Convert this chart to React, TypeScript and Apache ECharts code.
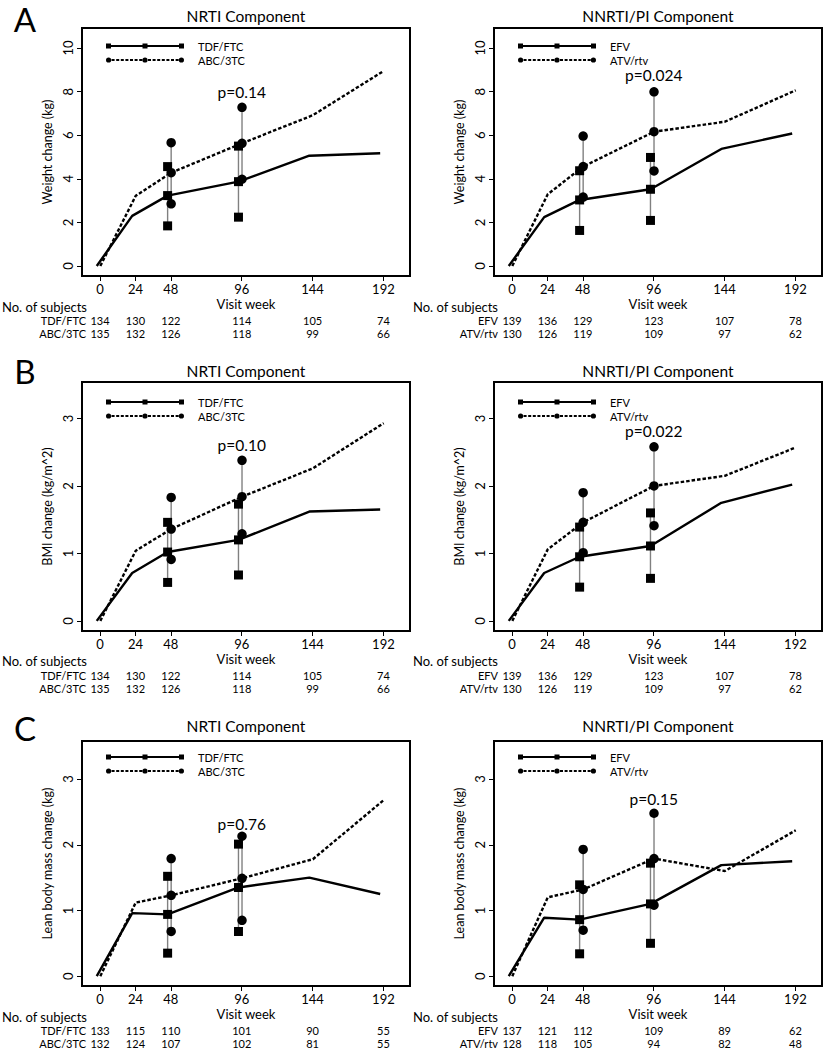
import React, { useEffect, useRef } from "react";
import * as echarts from "echarts";

// ---------------- data ----------------
const weeks = [0, 24, 48, 96, 144, 192];
const ciWeeks = [48, 96];
const xTickLabels = [0, 24, 48, 96, 144, 192];

// A: weight change (kg)
const weightTdfFtc = [0, 2.3, 3.23, 3.87, 5.06, 5.17];
const weightAbc3tc = [0, 3.22, 4.28, 5.63, 6.92, 8.95];
const weightTdfFtcLo = [1.84, 2.24];
const weightTdfFtcHi = [4.56, 5.5];
const weightAbc3tcLo = [2.85, 3.98];
const weightAbc3tcHi = [5.66, 7.28];
const weightEfv = [0, 2.24, 3.03, 3.52, 5.37, 6.08];
const weightAtvRtv = [0, 3.29, 4.56, 6.16, 6.62, 8.06];
const weightEfvLo = [1.63, 2.09];
const weightEfvHi = [4.37, 4.98];
const weightAtvRtvLo = [3.16, 4.36];
const weightAtvRtvHi = [5.96, 7.99];

// B: BMI change (kg/m^2)
const bmiTdfFtc = [0, 0.71, 1.02, 1.2, 1.62, 1.65];
const bmiAbc3tc = [0, 1.04, 1.36, 1.84, 2.26, 2.93];
const bmiTdfFtcLo = [0.57, 0.68];
const bmiTdfFtcHi = [1.46, 1.73];
const bmiAbc3tcLo = [0.91, 1.29];
const bmiAbc3tcHi = [1.83, 2.38];
const bmiEfv = [0, 0.71, 0.95, 1.11, 1.75, 2.02];
const bmiAtvRtv = [0, 1.06, 1.46, 2.0, 2.15, 2.57];
const bmiEfvLo = [0.5, 0.63];
const bmiEfvHi = [1.39, 1.6];
const bmiAtvRtvLo = [1.01, 1.41];
const bmiAtvRtvHi = [1.9, 2.58];

// C: lean body mass change (kg)
const leanTdfFtc = [0, 0.96, 0.94, 1.35, 1.5, 1.25];
const leanAbc3tc = [0, 1.12, 1.23, 1.49, 1.78, 2.68];
const leanTdfFtcLo = [0.35, 0.68];
const leanTdfFtcHi = [1.52, 2.01];
const leanAbc3tcLo = [0.68, 0.85];
const leanAbc3tcHi = [1.79, 2.13];
const leanEfv = [0, 0.89, 0.86, 1.1, 1.69, 1.75];
const leanAtvRtv = [0, 1.2, 1.32, 1.79, 1.6, 2.22];
const leanEfvLo = [0.34, 0.5];
const leanEfvHi = [1.39, 1.72];
const leanAtvRtvLo = [0.7, 1.08];
const leanAtvRtvHi = [1.93, 2.48];

// number of subjects
const nWeightTdfFtc = [134, 130, 122, 114, 105, 74];
const nWeightAbc3tc = [135, 132, 126, 118, 99, 66];
const nWeightEfv = [139, 136, 129, 123, 107, 78];
const nWeightAtvRtv = [130, 126, 119, 109, 97, 62];
const nBmiTdfFtc = [134, 130, 122, 114, 105, 74];
const nBmiAbc3tc = [135, 132, 126, 118, 99, 66];
const nBmiEfv = [139, 136, 129, 123, 107, 78];
const nBmiAtvRtv = [130, 126, 119, 109, 97, 62];
const nLeanTdfFtc = [133, 115, 110, 101, 90, 55];
const nLeanAbc3tc = [132, 124, 107, 102, 81, 55];
const nLeanEfv = [137, 121, 112, 109, 89, 62];
const nLeanAtvRtv = [128, 118, 105, 94, 82, 48];

const pValues = [["p=0.14", "p=0.024"], ["p=0.10", "p=0.022"], ["p=0.76", "p=0.15"]];
const panelLetters = ["A", "B", "C"];
const columnTitles = ["NRTI Component", "NNRTI/PI Component"];
const groupNames = [["TDF/FTC", "ABC/3TC"], ["EFV", "ATV/rtv"]];
const yAxisNames = ["Weight change (kg)", "BMI change (kg/m^2)", "Lean body mass change (kg)"];
const yTickLabels = [[0, 2, 4, 6, 8, 10], [0, 1, 2, 3], [0, 1, 2, 3]];

const panelData = [
  [
    { a: weightTdfFtc, b: weightAbc3tc, aLo: weightTdfFtcLo, aHi: weightTdfFtcHi, bLo: weightAbc3tcLo, bHi: weightAbc3tcHi, nA: nWeightTdfFtc, nB: nWeightAbc3tc },
    { a: weightEfv, b: weightAtvRtv, aLo: weightEfvLo, aHi: weightEfvHi, bLo: weightAtvRtvLo, bHi: weightAtvRtvHi, nA: nWeightEfv, nB: nWeightAtvRtv },
  ],
  [
    { a: bmiTdfFtc, b: bmiAbc3tc, aLo: bmiTdfFtcLo, aHi: bmiTdfFtcHi, bLo: bmiAbc3tcLo, bHi: bmiAbc3tcHi, nA: nBmiTdfFtc, nB: nBmiAbc3tc },
    { a: bmiEfv, b: bmiAtvRtv, aLo: bmiEfvLo, aHi: bmiEfvHi, bLo: bmiAtvRtvLo, bHi: bmiAtvRtvHi, nA: nBmiEfv, nB: nBmiAtvRtv },
  ],
  [
    { a: leanTdfFtc, b: leanAbc3tc, aLo: leanTdfFtcLo, aHi: leanTdfFtcHi, bLo: leanAbc3tcLo, bHi: leanAbc3tcHi, nA: nLeanTdfFtc, nB: nLeanAbc3tc },
    { a: leanEfv, b: leanAtvRtv, aLo: leanEfvLo, aHi: leanEfvHi, bLo: leanAtvRtvLo, bHi: leanAtvRtvHi, nA: nLeanEfv, nB: nLeanAtvRtv },
  ],
];

// ---------------- layout ----------------
const FONT = "Lato";
const colLeft = [82, 494];
const gridWidth = 328;
const rowTop = [28, 382, 741];
const rowHeight = [248, 249, 245];
const yRange = [[-0.46, 10.92], [-0.15, 3.54], [-0.15, 3.58]];
const xMin = -12.2;
const xMax = 210;
const shiftA = -2.2;
const shiftB = 0.2;
const pLabelY = [[8.0, 8.76], [2.6, 2.82], [2.32, 2.7]];
const titleY = [16, 371, 725.5];
const letterY = [18, 370, 727];
const legendRowTop = [40, 396, 751];
const subjectsY = [307, 661, 1017];
const countOffsets = [[44, 57], [44, 57], [44, 57]];

function buildIcons() {
  const solid =
    "path://M0,2.1h78v1.8h-78z M0,0.5h5v5h-5z M36.5,0.5h5v5h-5z M73,0.5h5v5h-5z";
  const r = 2.6;
  const cxs = [2.6, 39, 75.4];
  let d = "path://";
  cxs.forEach((cx) => {
    d += `M${cx - r},3 a${r},${r} 0 1,1 ${2 * r},0 a${r},${r} 0 1,1 ${-2 * r},0 z `;
  });
  const segs = [[5.6, 36.2], [42, 72.6]];
  segs.forEach(([s, e]) => {
    let x = s;
    while (x < e - 0.5) {
      const w = Math.min(3, e - x);
      d += `M${x.toFixed(2)},2.1h${w.toFixed(2)}v1.8h${(-w).toFixed(2)}z `;
      x += 4.6;
    }
  });
  return { solid, dashed: d.trim() };
}

function buildOption() {
  const icons = buildIcons();
  const grid: any[] = [];
  const xAxis: any[] = [];
  const yAxis: any[] = [];
  const series: any[] = [];
  const legend: any[] = [];
  const graphic: any[] = [];
  const txt = { color: "#000", fontFamily: FONT };

  for (let r = 0; r < 3; r++) {
    graphic.push({
      type: "text",
      x: 25,
      y: letterY[r] + 1,
      style: {
        text: panelLetters[r],
        font: `33px ${FONT}`,
        fill: "#000",
        align: "center",
        verticalAlign: "middle",
        lineHeight: 28,
      },
    });
    for (let c = 0; c < 2; c++) {
      const k = r * 2 + c;
      const d = panelData[r][c];
      const names = groupNames[c];
      const pText = pValues[r][c];
      grid.push({
        left: colLeft[c],
        top: rowTop[r],
        width: gridWidth,
        height: rowHeight[r],
        show: true,
        borderColor: "#000",
        borderWidth: 2,
        backgroundColor: "transparent",
      });
      xAxis.push({
        gridIndex: k,
        type: "value",
        min: xMin,
        max: xMax,
        axisLine: { show: false, onZero: false },
        splitLine: { show: false },
        axisTick: { show: true, length: 5, lineStyle: { color: "#000", width: 1 }, customValues: xTickLabels },
        axisLabel: { customValues: xTickLabels, fontSize: 13, lineHeight: 13, margin: 6, ...txt },
        name: "Visit week",
        nameLocation: "middle",
        nameGap: 21,
        nameTextStyle: { fontSize: 13, lineHeight: 13, ...txt },
      });
      [d.nA, d.nB].forEach((counts, j) => {
        xAxis.push({
          gridIndex: k,
          type: "value",
          min: xMin,
          max: xMax,
          position: "bottom",
          offset: countOffsets[r][j],
          axisLine: { show: false, onZero: false },
          axisTick: { show: false },
          splitLine: { show: false },
          axisLabel: {
            customValues: xTickLabels,
            margin: 0,
            verticalAlign: "middle",
            fontSize: 11,
            lineHeight: 12,
            ...txt,
            formatter: (v: number) => String(counts[weeks.indexOf(Math.round(v))]),
          },
          name: names[j],
          nameLocation: "start",
          nameGap: -4,
          nameTextStyle: { fontSize: 11, lineHeight: 12, ...txt },
        });
      });
      yAxis.push({
        gridIndex: k,
        type: "value",
        min: yRange[r][0],
        max: yRange[r][1],
        axisLine: { show: false, onZero: false },
        splitLine: { show: false },
        axisTick: { show: true, length: 5, lineStyle: { color: "#000", width: 1 }, customValues: yTickLabels[r] },
        axisLabel: { customValues: yTickLabels[r], rotate: 90, fontSize: 13, margin: 8, ...txt },
        name: yAxisNames[r],
        nameLocation: "middle",
        nameGap: 28,
        nameTextStyle: { fontSize: 12.5, ...txt },
      });
      const xi = k * 3;
      series.push({
        type: "line",
        name: names[0],
        xAxisIndex: xi,
        yAxisIndex: k,
        data: weeks.map((w, i) => [w + shiftA, d.a[i]]),
        showSymbol: false,
        symbol: "none",
        color: "#000",
        lineStyle: { color: "#000", width: 2.4 },
        itemStyle: { color: "#000" },
        z: 2,
        silent: true,
      });
      series.push({
        type: "line",
        name: names[1],
        xAxisIndex: xi,
        yAxisIndex: k,
        data: weeks.map((w, i) => [w + shiftB, d.b[i]]),
        showSymbol: false,
        symbol: "none",
        color: "#000",
        lineStyle: { color: "#000", width: 2.4, type: [3.5, 2] },
        itemStyle: { color: "#000" },
        z: 2,
        silent: true,
      });
      const bars: number[][] = [];
      ciWeeks.forEach((w, j) => {
        bars.push([w + shiftA, d.aLo[j], d.aHi[j]]);
        bars.push([w + shiftB, d.bLo[j], d.bHi[j]]);
      });
      series.push({
        type: "custom",
        xAxisIndex: xi,
        yAxisIndex: k,
        data: bars,
        z: 3,
        silent: true,
        renderItem: (params: any, api: any) => {
          const p1 = api.coord([api.value(0), api.value(1)]);
          const p2 = api.coord([api.value(0), api.value(2)]);
          return {
            type: "line",
            shape: { x1: p1[0], y1: p1[1], x2: p2[0], y2: p2[1] },
            style: { stroke: "#808080", lineWidth: 1.4 },
          };
        },
      });
      const sq: number[][] = [];
      const ci: number[][] = [];
      ciWeeks.forEach((w, j) => {
        const idx = weeks.indexOf(w);
        sq.push([w + shiftA, d.aLo[j]], [w + shiftA, d.a[idx]], [w + shiftA, d.aHi[j]]);
        ci.push([w + shiftB, d.bLo[j]], [w + shiftB, d.b[idx]], [w + shiftB, d.bHi[j]]);
      });
      series.push({
        type: "scatter",
        xAxisIndex: xi,
        yAxisIndex: k,
        data: sq,
        symbol: "rect",
        symbolSize: 9,
        itemStyle: { color: "#000", opacity: 1 },
        z: 4,
        silent: true,
      });
      series.push({
        type: "scatter",
        xAxisIndex: xi,
        yAxisIndex: k,
        data: ci,
        symbol: "circle",
        symbolSize: 9.5,
        itemStyle: { color: "#000", opacity: 1 },
        z: 5,
        silent: true,
      });
      series.push({
        type: "custom",
        xAxisIndex: xi,
        yAxisIndex: k,
        data: [[96, pLabelY[r][c]]],
        z: 6,
        silent: true,
        renderItem: (params: any, api: any) => {
          const p = api.coord([api.value(0), api.value(1)]);
          return {
            type: "text",
            x: p[0],
            y: p[1],
            style: {
              text: pText,
              fill: "#000",
              font: `15.5px ${FONT}`,
              align: "center",
              verticalAlign: "middle",
            },
          };
        },
      });
      legend.push({
        left: colLeft[c] + 24,
        top: legendRowTop[r],
        orient: "vertical",
        padding: 0,
        itemWidth: 78,
        itemHeight: 6,
        itemGap: 2,
        selectedMode: false,
        data: [
          { name: names[0], icon: icons.solid },
          { name: names[1], icon: icons.dashed },
        ],
        itemStyle: { color: "#000" },
        textStyle: { fontSize: 11, lineHeight: 12, padding: [0, 0, 0, 9], ...txt },
      });
      graphic.push({
        type: "text",
        x: colLeft[c] + gridWidth / 2,
        y: titleY[r],
        style: { text: columnTitles[c], font: `15.5px ${FONT}`, fill: "#000", align: "center", verticalAlign: "middle" },
      });
      graphic.push({
        type: "text",
        x: c === 0 ? 2 : 413,
        y: subjectsY[r],
        style: {
          text: "No. of subjects",
          font: `13px ${FONT}`,
          fill: "#000",
          align: "left",
          verticalAlign: "middle",
          lineHeight: 12,
        },
      });
    }
  }

  return {
    animation: false,
    backgroundColor: "#fff",
    textStyle: { fontFamily: FONT, color: "#000" },
    grid,
    xAxis,
    yAxis,
    series,
    legend,
    graphic,
  };
}

export default function App() {
  const ref = useRef<HTMLDivElement>(null);
  useEffect(() => {
    if (!ref.current) return;
    const chart = echarts.init(ref.current, undefined, { renderer: "svg" });
    chart.setOption(buildOption() as any);
    return () => chart.dispose();
  }, []);
  return (
    <div
      ref={ref}
      style={{ position: "absolute", left: 0, top: 0, width: 825, height: 1050, background: "#fff" }}
    />
  );
}
